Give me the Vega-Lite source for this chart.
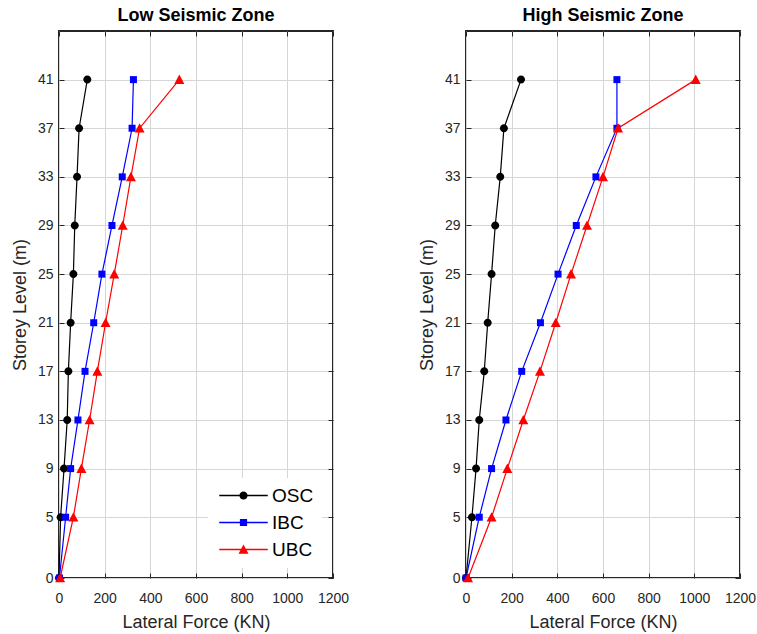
{
  "$schema": "https://vega.github.io/schema/vega-lite/v6.json",
  "background": "white",
  "padding": {"left": 10, "top": 5, "right": 5, "bottom": 2},
  "config": {
    "font": "Liberation Sans",
    "view": {"stroke": "#262626", "strokeWidth": 2},
    "title": {"fontSize": 18, "fontWeight": "bold", "color": "#000000", "offset": 6, "font": "Liberation Sans"}
  },
  "data": {
    "values": [
      {"zone": "Low", "code": "OSC", "level": 0, "force": 0},
      {"zone": "Low", "code": "OSC", "level": 5, "force": 7},
      {"zone": "Low", "code": "OSC", "level": 9, "force": 22},
      {"zone": "Low", "code": "OSC", "level": 13, "force": 36},
      {"zone": "Low", "code": "OSC", "level": 17, "force": 41},
      {"zone": "Low", "code": "OSC", "level": 21, "force": 51},
      {"zone": "Low", "code": "OSC", "level": 25, "force": 63},
      {"zone": "Low", "code": "OSC", "level": 29, "force": 69},
      {"zone": "Low", "code": "OSC", "level": 33, "force": 79},
      {"zone": "Low", "code": "OSC", "level": 37, "force": 88},
      {"zone": "Low", "code": "OSC", "level": 41, "force": 124},
      {"zone": "Low", "code": "IBC", "level": 0, "force": 2},
      {"zone": "Low", "code": "IBC", "level": 5, "force": 29},
      {"zone": "Low", "code": "IBC", "level": 9, "force": 51},
      {"zone": "Low", "code": "IBC", "level": 13, "force": 83},
      {"zone": "Low", "code": "IBC", "level": 17, "force": 114},
      {"zone": "Low", "code": "IBC", "level": 21, "force": 152},
      {"zone": "Low", "code": "IBC", "level": 25, "force": 188},
      {"zone": "Low", "code": "IBC", "level": 29, "force": 232},
      {"zone": "Low", "code": "IBC", "level": 33, "force": 277},
      {"zone": "Low", "code": "IBC", "level": 37, "force": 320},
      {"zone": "Low", "code": "IBC", "level": 41, "force": 326},
      {"zone": "Low", "code": "UBC", "level": 0, "force": 5},
      {"zone": "Low", "code": "UBC", "level": 5, "force": 63},
      {"zone": "Low", "code": "UBC", "level": 9, "force": 98},
      {"zone": "Low", "code": "UBC", "level": 13, "force": 134},
      {"zone": "Low", "code": "UBC", "level": 17, "force": 168},
      {"zone": "Low", "code": "UBC", "level": 21, "force": 204},
      {"zone": "Low", "code": "UBC", "level": 25, "force": 242},
      {"zone": "Low", "code": "UBC", "level": 29, "force": 279},
      {"zone": "Low", "code": "UBC", "level": 33, "force": 315},
      {"zone": "Low", "code": "UBC", "level": 37, "force": 353},
      {"zone": "Low", "code": "UBC", "level": 41, "force": 527},
      {"zone": "High", "code": "OSC", "level": 0, "force": 0},
      {"zone": "High", "code": "OSC", "level": 5, "force": 26},
      {"zone": "High", "code": "OSC", "level": 9, "force": 44},
      {"zone": "High", "code": "OSC", "level": 13, "force": 58},
      {"zone": "High", "code": "OSC", "level": 17, "force": 80},
      {"zone": "High", "code": "OSC", "level": 21, "force": 95},
      {"zone": "High", "code": "OSC", "level": 25, "force": 112},
      {"zone": "High", "code": "OSC", "level": 29, "force": 128},
      {"zone": "High", "code": "OSC", "level": 33, "force": 150},
      {"zone": "High", "code": "OSC", "level": 37, "force": 166},
      {"zone": "High", "code": "OSC", "level": 41, "force": 241},
      {"zone": "High", "code": "IBC", "level": 0, "force": 0},
      {"zone": "High", "code": "IBC", "level": 5, "force": 58},
      {"zone": "High", "code": "IBC", "level": 9, "force": 112},
      {"zone": "High", "code": "IBC", "level": 13, "force": 175},
      {"zone": "High", "code": "IBC", "level": 17, "force": 244},
      {"zone": "High", "code": "IBC", "level": 21, "force": 326},
      {"zone": "High", "code": "IBC", "level": 25, "force": 403},
      {"zone": "High", "code": "IBC", "level": 29, "force": 483},
      {"zone": "High", "code": "IBC", "level": 33, "force": 569},
      {"zone": "High", "code": "IBC", "level": 37, "force": 661},
      {"zone": "High", "code": "IBC", "level": 41, "force": 661},
      {"zone": "High", "code": "UBC", "level": 0, "force": 9},
      {"zone": "High", "code": "UBC", "level": 5, "force": 112},
      {"zone": "High", "code": "UBC", "level": 9, "force": 181},
      {"zone": "High", "code": "UBC", "level": 13, "force": 251},
      {"zone": "High", "code": "UBC", "level": 17, "force": 324},
      {"zone": "High", "code": "UBC", "level": 21, "force": 393},
      {"zone": "High", "code": "UBC", "level": 25, "force": 460},
      {"zone": "High", "code": "UBC", "level": 29, "force": 530},
      {"zone": "High", "code": "UBC", "level": 33, "force": 600},
      {"zone": "High", "code": "UBC", "level": 37, "force": 666},
      {"zone": "High", "code": "UBC", "level": 41, "force": 1006}
    ]
  },
  "spacing": 67,
  "resolve": {"scale": {"color": "independent", "shape": "independent"}, "legend": {"color": "independent", "shape": "independent"}},
  "hconcat": [
    {
      "title": {"text": "Low Seismic Zone"},
      "width": 274,
      "height": 547,
      "transform": [{"filter": "datum.zone === 'Low'"}],
      "resolve": {"axis": {"x": "independent", "y": "independent"}, "scale": {"shape": "independent"}, "legend": {"color": "independent", "shape": "independent"}},
      "layer": [
        {
          "mark": {"type": "line", "strokeWidth": 1.2},
          "encoding": {
            "x": {"field": "force", "type": "quantitative", "scale": {"domain": [0, 1200], "nice": false, "zero": false},
              "axis": {"orient": "bottom", "values": [0, 200, 400, 600, 800, 1000, 1200], "format": "d", "grid": true, "gridColor": "#d6d6d6", "gridWidth": 1, "domain": false, "tickSize": -5, "tickColor": "#262626", "tickWidth": 1, "labelFontSize": 14, "labelColor": "#262626", "labelPadding": 18, "labelFlush": false, "title": "Lateral Force (KN)", "titleFontSize": 18, "titleFontWeight": "normal", "titleColor": "#262626", "titlePadding": 8}},
            "y": {"field": "level", "type": "quantitative", "scale": {"domain": [0, 45], "nice": false, "zero": false},
              "axis": {"orient": "left", "values": [0, 5, 9, 13, 17, 21, 25, 29, 33, 37, 41], "format": "d", "grid": true, "gridColor": "#d6d6d6", "gridWidth": 1, "domain": false, "tickSize": -5, "tickColor": "#262626", "tickWidth": 1, "labelFontSize": 14, "labelColor": "#262626", "labelPadding": 11, "labelFlush": false, "title": "Storey Level (m)", "titleFontSize": 18, "titleFontWeight": "normal", "titleColor": "#262626", "titlePadding": 8}},
            "color": {"field": "code", "type": "nominal", "scale": {"domain": ["OSC", "IBC", "UBC"], "range": ["#000000", "#0000ff", "#ff0000"]}, "legend": null},
            "order": {"field": "level", "type": "quantitative"}
          }
        },
        {
          "mark": {"type": "point", "filled": true, "opacity": 1, "size": 100},
          "encoding": {
            "x": {"field": "force", "type": "quantitative",
              "axis": {"orient": "top", "values": [0, 200, 400, 600, 800, 1000, 1200], "grid": false, "domain": false, "labels": false, "title": null, "tickSize": -5, "tickColor": "#262626", "tickWidth": 1}},
            "y": {"field": "level", "type": "quantitative",
              "axis": {"orient": "right", "values": [0, 5, 9, 13, 17, 21, 25, 29, 33, 37, 41], "grid": false, "domain": false, "labels": false, "title": null, "tickSize": -5, "tickColor": "#262626", "tickWidth": 1}},
            "color": {"field": "code", "type": "nominal", "scale": {"domain": ["OSC", "IBC", "UBC"], "range": ["#000000", "#0000ff", "#ff0000"]}, "legend": null},
            "shape": {"field": "code", "type": "nominal", "scale": {"domain": ["OSC", "IBC", "UBC"], "range": ["M0.8,0A0.8,0.8 0 1,1 -0.8,0A0.8,0.8 0 1,1 0.8,0Z", "M-0.7,-0.7H0.7V0.7H-0.7Z", "M0,-1L1,0.86H-1Z"]}, "legend": null}
          }
        },
        {
          "transform": [{"filter": "datum.level < 0"}],
          "mark": {"type": "point", "filled": true, "opacity": 1, "size": 100},
          "encoding": {
            "x": {"field": "force", "type": "quantitative", "axis": null},
            "y": {"field": "level", "type": "quantitative", "axis": null},
            "color": {"field": "code", "type": "nominal", "scale": {"domain": ["OSC", "IBC", "UBC"], "range": ["#000000", "#0000ff", "#ff0000"]},
              "legend": {"orient": "none", "legendX": 149, "legendY": 447, "title": null, "fillColor": "white", "padding": 8, "labelFontSize": 19, "labelColor": "#000000", "labelFont": "Liberation Sans", "symbolSize": 100, "symbolOffset": 18, "labelOffset": 19, "rowPadding": 7, "symbolStrokeWidth": 0, "symbolOpacity": 1}},
            "shape": {"field": "code", "type": "nominal", "scale": {"domain": ["OSC", "IBC", "UBC"], "range": ["M-4.85,-0.16H4.85V0.16H-4.85Z M0.82,0A0.82,0.82 0 1,1 -0.82,0A0.82,0.82 0 1,1 0.82,0Z", "M-4.85,-0.16H4.85V0.16H-4.85Z M-0.72,-0.72H0.72V0.72H-0.72Z", "M-4.85,-0.16H4.85V0.16H-4.85Z M0,-1L1,0.86H-1Z"]},
              "legend": {"orient": "none", "legendX": 149, "legendY": 447, "title": null, "fillColor": "white", "padding": 8, "labelFontSize": 19, "labelColor": "#000000", "labelFont": "Liberation Sans", "symbolSize": 100, "symbolOffset": 18, "labelOffset": 19, "rowPadding": 7, "symbolStrokeWidth": 0, "symbolOpacity": 1}}
          }
        }
      ]
    },
    {
      "title": {"text": "High Seismic Zone"},
      "width": 274,
      "height": 547,
      "transform": [{"filter": "datum.zone === 'High'"}],
      "resolve": {"axis": {"x": "independent", "y": "independent"}},
      "layer": [
        {
          "mark": {"type": "line", "strokeWidth": 1.2},
          "encoding": {
            "x": {"field": "force", "type": "quantitative", "scale": {"domain": [0, 1200], "nice": false, "zero": false},
              "axis": {"orient": "bottom", "values": [0, 200, 400, 600, 800, 1000, 1200], "format": "d", "grid": true, "gridColor": "#d6d6d6", "gridWidth": 1, "domain": false, "tickSize": -5, "tickColor": "#262626", "tickWidth": 1, "labelFontSize": 14, "labelColor": "#262626", "labelPadding": 18, "labelFlush": false, "title": "Lateral Force (KN)", "titleFontSize": 18, "titleFontWeight": "normal", "titleColor": "#262626", "titlePadding": 8}},
            "y": {"field": "level", "type": "quantitative", "scale": {"domain": [0, 45], "nice": false, "zero": false},
              "axis": {"orient": "left", "values": [0, 5, 9, 13, 17, 21, 25, 29, 33, 37, 41], "format": "d", "grid": true, "gridColor": "#d6d6d6", "gridWidth": 1, "domain": false, "tickSize": -5, "tickColor": "#262626", "tickWidth": 1, "labelFontSize": 14, "labelColor": "#262626", "labelPadding": 11, "labelFlush": false, "title": "Storey Level (m)", "titleFontSize": 18, "titleFontWeight": "normal", "titleColor": "#262626", "titlePadding": 8}},
            "color": {"field": "code", "type": "nominal", "scale": {"domain": ["OSC", "IBC", "UBC"], "range": ["#000000", "#0000ff", "#ff0000"]}, "legend": null},
            "order": {"field": "level", "type": "quantitative"}
          }
        },
        {
          "mark": {"type": "point", "filled": true, "opacity": 1, "size": 100},
          "encoding": {
            "x": {"field": "force", "type": "quantitative",
              "axis": {"orient": "top", "values": [0, 200, 400, 600, 800, 1000, 1200], "grid": false, "domain": false, "labels": false, "title": null, "tickSize": -5, "tickColor": "#262626", "tickWidth": 1}},
            "y": {"field": "level", "type": "quantitative",
              "axis": {"orient": "right", "values": [0, 5, 9, 13, 17, 21, 25, 29, 33, 37, 41], "grid": false, "domain": false, "labels": false, "title": null, "tickSize": -5, "tickColor": "#262626", "tickWidth": 1}},
            "color": {"field": "code", "type": "nominal", "scale": {"domain": ["OSC", "IBC", "UBC"], "range": ["#000000", "#0000ff", "#ff0000"]}, "legend": null},
            "shape": {"field": "code", "type": "nominal", "scale": {"domain": ["OSC", "IBC", "UBC"], "range": ["M0.8,0A0.8,0.8 0 1,1 -0.8,0A0.8,0.8 0 1,1 0.8,0Z", "M-0.7,-0.7H0.7V0.7H-0.7Z", "M0,-1L1,0.86H-1Z"]}, "legend": null}
          }
        }
      ]
    }
  ]
}
